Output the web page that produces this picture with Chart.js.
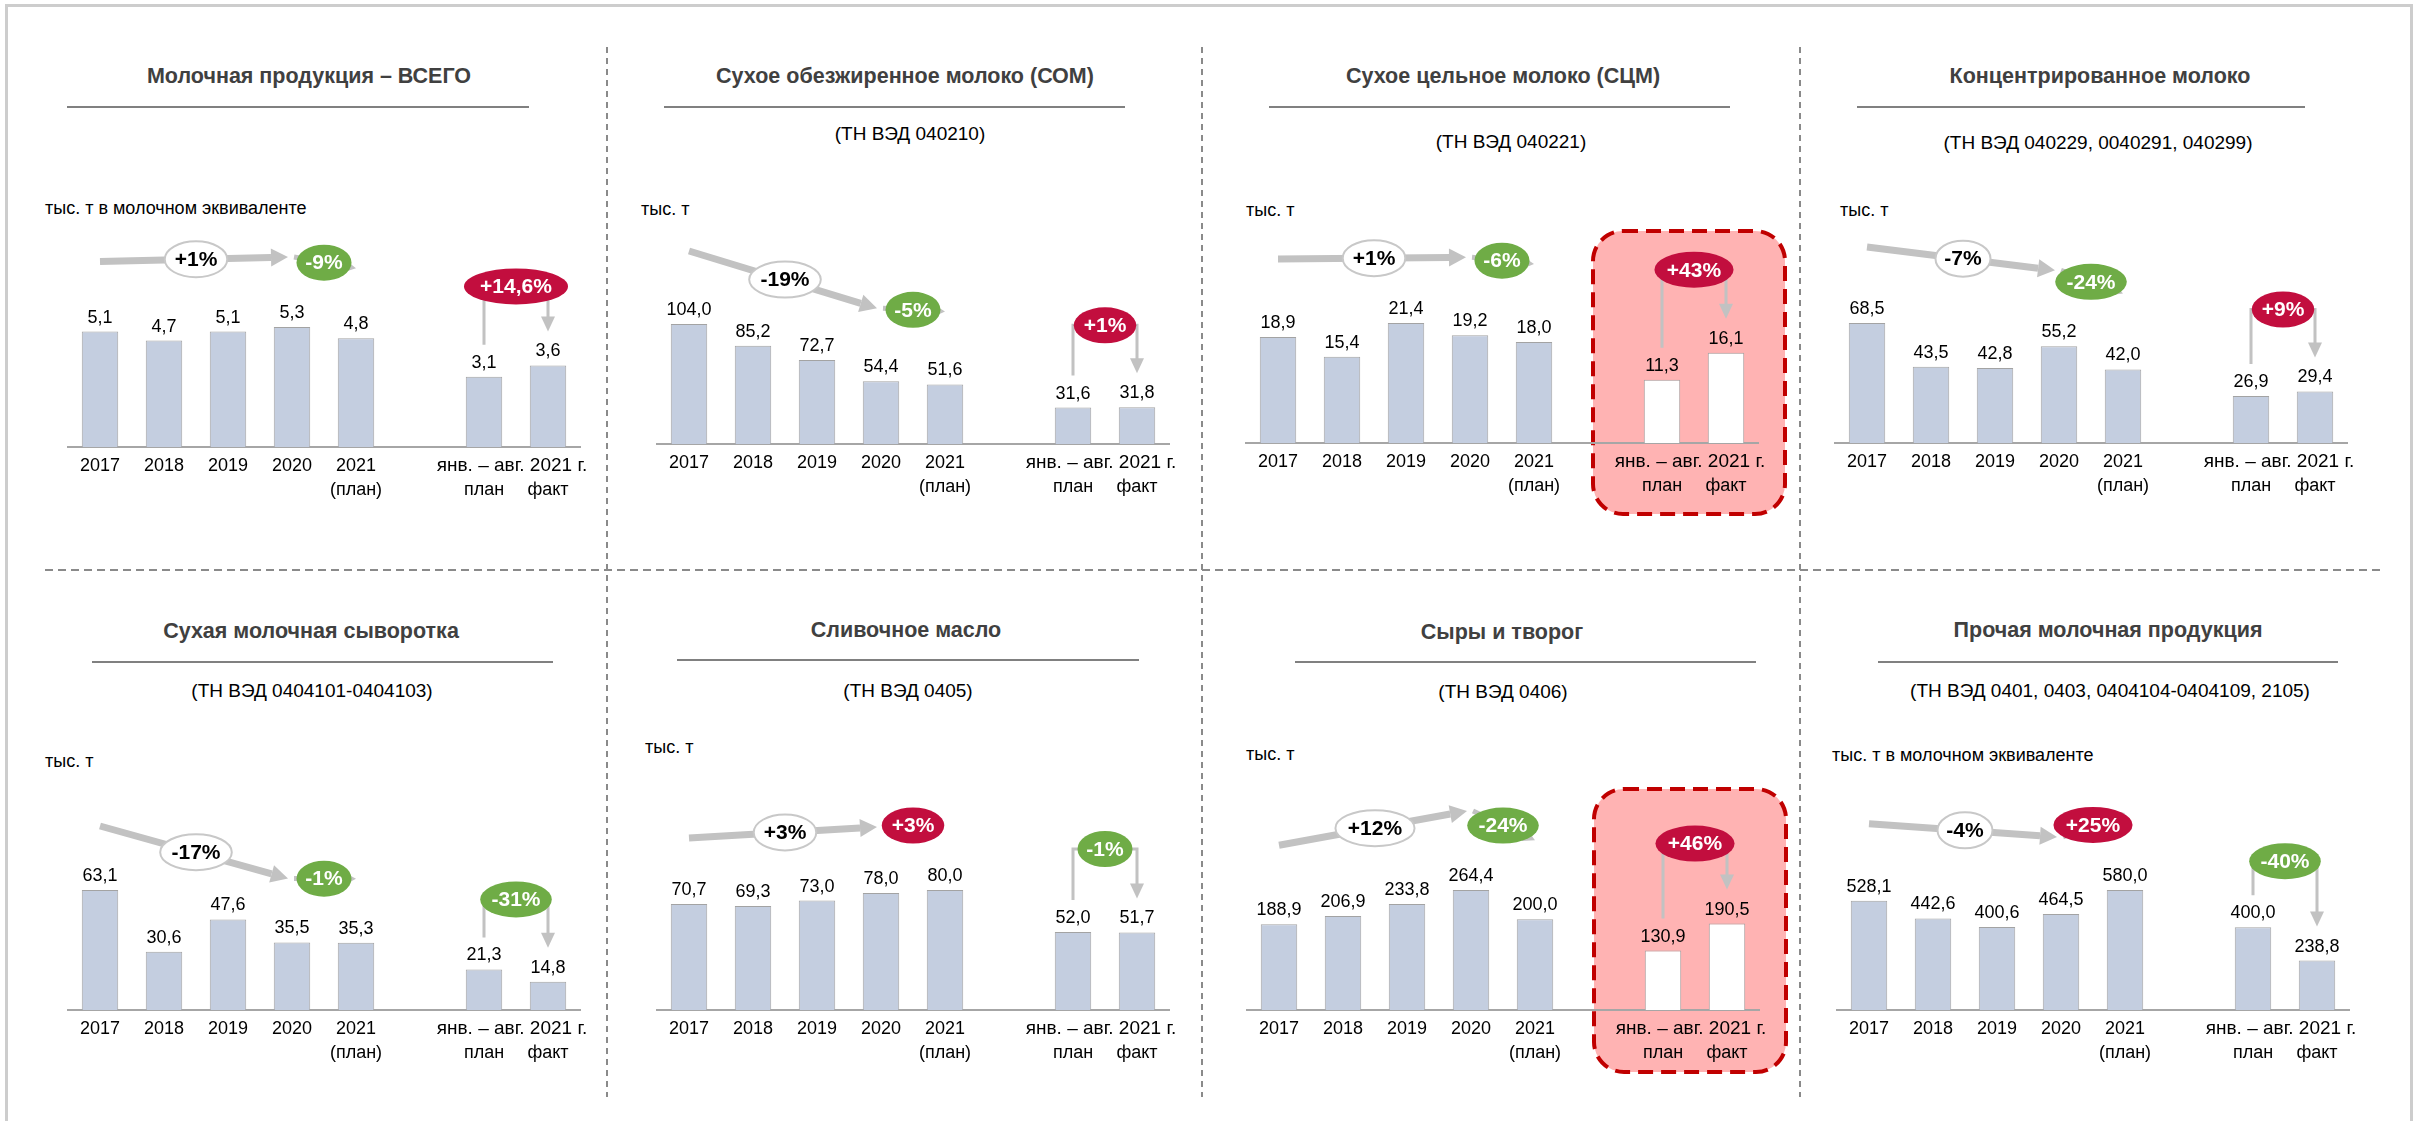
<!DOCTYPE html>
<html lang="ru">
<head>
<meta charset="utf-8">
<title>Молочная продукция</title>
<script src="https://cdn.jsdelivr.net/npm/chart.js@4.4.1/dist/chart.umd.min.js"></script>
<style>
  html, body { margin: 0; padding: 0; background: #fff; }
  body { width: 2417px; height: 1121px; position: relative; overflow: hidden; font-family: "Liberation Sans", Arial, sans-serif; }
  .frame { position: absolute; left: 5px; top: 4px; width: 2402px; height: 1140px; border: 3px solid #cdcdcd; }
  .vdash { position: absolute; width: 2px; background: repeating-linear-gradient(to bottom, #8a8a8a 0 6px, transparent 6px 11px); }
  .hdash { position: absolute; height: 2px; background: repeating-linear-gradient(to right, #8a8a8a 0 8px, transparent 8px 13px); }
  .title { position: absolute; font-weight: bold; font-size: 21.5px; color: #404040; transform: translate(-50%, -50%); white-space: nowrap; }
  .rule { position: absolute; height: 2px; background: #808080; }
  .sub { position: absolute; font-size: 19px; color: #000; transform: translate(-50%, -50%); white-space: nowrap; }
  .unit { position: absolute; font-size: 18px; color: #000; transform: translateY(-50%); white-space: nowrap; }
  canvas { position: absolute; }
</style>
</head>
<body>
<div class="frame"></div>
<script>
// --- data ---
const categories = ["2017", "2018", "2019", "2020", ["2021", "(план)"], "", ["", "план"], ["", "факт"]];
const periodLabel = "янв. – авг. 2021 г.";

const titles = [
	"Молочная продукция – ВСЕГО",
	"Сухое обезжиренное молоко (СОМ)",
	"Сухое цельное молоко (СЦМ)",
	"Концентрированное молоко",
	"Сухая молочная сыворотка",
	"Сливочное масло",
	"Сыры и творог",
	"Прочая молочная продукция",
];
const subtitles = [
	"",
	"(ТН ВЭД 040210)",
	"(ТН ВЭД 040221)",
	"(ТН ВЭД 040229, 0040291, 040299)",
	"(ТН ВЭД 0404101-0404103)",
	"(ТН ВЭД 0405)",
	"(ТН ВЭД 0406)",
	"(ТН ВЭД 0401, 0403, 0404104-0404109, 2105)",
];
const units = [
	"тыс. т в молочном эквиваленте",
	"тыс. т", "тыс. т", "тыс. т", "тыс. т", "тыс. т", "тыс. т",
	"тыс. т в молочном эквиваленте",
];

// 2017..2021 (план), gap, янв.-авг. план, янв.-авг. факт
const totalValues = [5.1, 4.7, 5.1, 5.3, 4.8, null, 3.1, 3.6];
const somValues = [104.0, 85.2, 72.7, 54.4, 51.6, null, 31.6, 31.8];
const scmValues = [18.9, 15.4, 21.4, 19.2, 18.0, null, 11.3, 16.1];
const condensedValues = [68.5, 43.5, 42.8, 55.2, 42.0, null, 26.9, 29.4];
const wheyValues = [63.1, 30.6, 47.6, 35.5, 35.3, null, 21.3, 14.8];
const butterValues = [70.7, 69.3, 73.0, 78.0, 80.0, null, 52.0, 51.7];
const cheeseValues = [188.9, 206.9, 233.8, 264.4, 200.0, null, 130.9, 190.5];
const otherValues = [528.1, 442.6, 400.6, 464.5, 580.0, null, 400.0, 238.8];
const seriesValues = [totalValues, somValues, scmValues, condensedValues, wheyValues, butterValues, cheeseValues, otherValues];

// trend badges: 2017→2020 and 2020→2021
const trendLabels = [
	["+1%", "-9%"], ["-19%", "-5%"], ["+1%", "-6%"], ["-7%", "-24%"],
	["-17%", "-1%"], ["+3%", "+3%"], ["+12%", "-24%"], ["-4%", "+25%"],
];
// plan → fact badge
const factLabels = ["+14,6%", "+1%", "+43%", "+9%", "-31%", "-1%", "+46%", "-40%"];
const highlighted = [false, false, true, false, false, false, true, false];

// --- layout (page pixels) ---
const panelLayout = [
	{ tx: 309, ty: 76, rule: [67, 529], ry: 107, sx: 910, sy: 0, ux: 45, uy: 208, barX: 100, baseY: 447, lift: 70, bLift: 79 },
	{ tx: 905, ty: 76, rule: [664, 1125], ry: 107, sx: 910, sy: 134, ux: 641, uy: 209, barX: 689, baseY: 444, lift: 73, bLift: 82 },
	{ tx: 1503, ty: 76, rule: [1269, 1730], ry: 107, sx: 1511, sy: 142, ux: 1246, uy: 210, barX: 1278, baseY: 443, lift: 78, bLift: 83, box: [212, 71] },
	{ tx: 2100, ty: 76, rule: [1857, 2305], ry: 107, sx: 2098, sy: 143, ux: 1840, uy: 210, barX: 1867, baseY: 443, lift: 76, bLift: 82 },
	{ tx: 311, ty: 631, rule: [92, 553], ry: 662, sx: 312, sy: 691, ux: 45, uy: 761, barX: 100, baseY: 1010, lift: 64, bLift: 70 },
	{ tx: 906, ty: 630, rule: [677, 1139], ry: 660, sx: 908, sy: 691, ux: 645, uy: 747, barX: 689, baseY: 1010, lift: 66, bLift: 83 },
	{ tx: 1502, ty: 632, rule: [1295, 1756], ry: 662, sx: 1503, sy: 692, ux: 1246, uy: 754, barX: 1279, baseY: 1010, lift: 79, bLift: 80, box: [221, 62] },
	{ tx: 2108, ty: 630, rule: [1878, 2338], ry: 662, sx: 2110, sy: 691, ux: 1832, uy: 755, barX: 1869, baseY: 1010, lift: 77, bLift: 66 },
];

const FONT = '"Liberation Sans", Arial, sans-serif';
const BAR_FILL = "#c4cee0";
const BAR_EDGE = "#a3a3a3";
const ARROW_GRAY = "#c2c2c2";
const GREEN = "#6fac46";
const RED = "#c20e3e";
const CANVAS_W = 592;
const CANVAS_H = 320;
const AXIS_H = 80;
const PAD_X = 40;
const BAR_PX = 120;

const badgeColor = (text) => (text.trim().startsWith("+") ? RED : GREEN);
const fmt = (v) => v.toFixed(1).replace(".", ",");

const addDiv = (cls, style, text) => {
	const el = document.createElement("div");
	el.className = cls;
	Object.assign(el.style, style);
	if (text) el.textContent = text;
	document.body.appendChild(el);
	return el;
};

// separators
[607, 1202, 1800].forEach((x) => addDiv("vdash", { left: x - 1 + "px", top: "47px", height: "1050px" }));
addDiv("hdash", { left: "45px", top: "569px", width: "2337px" });

const drawArrow = (ctx, x1, y1, x2, y2, width, headL, headW) => {
	const a = Math.atan2(y2 - y1, x2 - x1);
	const bx = x2 - headL * Math.cos(a);
	const by = y2 - headL * Math.sin(a);
	ctx.save();
	ctx.strokeStyle = ARROW_GRAY;
	ctx.fillStyle = ARROW_GRAY;
	ctx.lineWidth = width;
	ctx.beginPath();
	ctx.moveTo(x1, y1);
	ctx.lineTo(bx, by);
	ctx.stroke();
	ctx.beginPath();
	ctx.moveTo(x2, y2);
	ctx.lineTo(bx + (headW / 2) * Math.sin(a), by - (headW / 2) * Math.cos(a));
	ctx.lineTo(bx - (headW / 2) * Math.sin(a), by + (headW / 2) * Math.cos(a));
	ctx.closePath();
	ctx.fill();
	ctx.restore();
};

const drawBadge = (ctx, cx, cy, text, fill) => {
	ctx.save();
	ctx.font = "bold 21px " + FONT;
	const w = ctx.measureText(text).width;
	ctx.beginPath();
	ctx.ellipse(cx, cy, w * 0.71 + 1, 18, 0, 0, Math.PI * 2);
	if (fill) {
		ctx.fillStyle = fill;
		ctx.fill();
		ctx.fillStyle = "#fff";
	} else {
		ctx.fillStyle = "#fff";
		ctx.fill();
		ctx.strokeStyle = "#c8c8c8";
		ctx.lineWidth = 2;
		ctx.stroke();
		ctx.fillStyle = "#000";
	}
	ctx.textAlign = "center";
	ctx.textBaseline = "middle";
	ctx.fillText(text, cx, cy + 1);
	ctx.restore();
};

const panelMarks = {
	id: "panelMarks",
	beforeDraw(chart, args, opts) {
		if (!opts.box) return;
		const ctx = chart.ctx;
		const bars = chart.getDatasetMeta(0).data;
		const base = chart.scales.y.getPixelForValue(0);
		const x1 = bars[6].x - 69;
		const x2 = bars[7].x + 59;
		const y1 = base - opts.box[0];
		const y2 = base + opts.box[1];
		ctx.save();
		ctx.beginPath();
		ctx.roundRect(x1, y1, x2 - x1, y2 - y1, 30);
		ctx.fillStyle = "#ffb3b3";
		ctx.fill();
		ctx.setLineDash([15, 8]);
		ctx.lineWidth = 4;
		ctx.strokeStyle = "#c00000";
		ctx.stroke();
		ctx.restore();
	},
	afterDatasetsDraw(chart, args, opts) {
		const ctx = chart.ctx;
		const bars = chart.getDatasetMeta(0).data;
		const values = chart.data.datasets[0].data;

		// value labels
		ctx.save();
		ctx.font = "18px " + FONT;
		ctx.fillStyle = "#000";
		ctx.textAlign = "center";
		ctx.textBaseline = "alphabetic";
		values.forEach((v, i) => {
			if (v === null) return;
			ctx.fillText(fmt(v), bars[i].x, bars[i].y - 9);
		});
		ctx.restore();

		// trend arrows 2017 → 2020 → 2021
		const yAt = (i) => bars[i].y - opts.lift;
		drawArrow(ctx, bars[0].x, yAt(0), bars[3].x - 4, yAt(3), 7, 17, 18);
		drawArrow(ctx, bars[3].x + 2, yAt(3), bars[4].x, yAt(4), 5, 12, 13);
		drawBadge(ctx, (bars[0].x + bars[3].x) / 2, (yAt(0) + yAt(3)) / 2, opts.trend[0], null);
		drawBadge(ctx, (bars[3].x + bars[4].x) / 2, (yAt(3) + yAt(4)) / 2, opts.trend[1], badgeColor(opts.trend[1]));

		// plan → fact bracket
		const p = bars[6];
		const f = bars[7];
		const yTop = Math.min(p.y, f.y) - opts.bLift;
		const tipY = f.y - 34;
		ctx.save();
		ctx.strokeStyle = ARROW_GRAY;
		ctx.fillStyle = ARROW_GRAY;
		ctx.lineWidth = 3;
		ctx.beginPath();
		ctx.moveTo(p.x, p.y - 32);
		ctx.lineTo(p.x, yTop);
		ctx.lineTo(f.x, yTop);
		ctx.lineTo(f.x, tipY - 14);
		ctx.stroke();
		ctx.beginPath();
		ctx.moveTo(f.x, tipY);
		ctx.lineTo(f.x - 7, tipY - 15);
		ctx.lineTo(f.x + 7, tipY - 15);
		ctx.closePath();
		ctx.fill();
		ctx.restore();
		drawBadge(ctx, (p.x + f.x) / 2, yTop, opts.fact, badgeColor(opts.fact));
	},
	afterDraw(chart) {
		const ctx = chart.ctx;
		const bars = chart.getDatasetMeta(0).data;
		ctx.save();
		ctx.font = "19px " + FONT;
		ctx.fillStyle = "#000";
		ctx.textAlign = "center";
		ctx.textBaseline = "middle";
		ctx.fillText(periodLabel, (bars[6].x + bars[7].x) / 2 - 4, chart.scales.x.top + 7 + 12);
		ctx.restore();
	},
};

seriesValues.forEach((values, i) => {
	const lay = panelLayout[i];
	addDiv("title", { left: lay.tx + "px", top: lay.ty + "px" }, titles[i]);
	addDiv("rule", { left: lay.rule[0] + "px", top: lay.ry - 1 + "px", width: lay.rule[1] - lay.rule[0] + "px" });
	if (subtitles[i]) addDiv("sub", { left: lay.sx + "px", top: lay.sy + "px" }, subtitles[i]);
	addDiv("unit", { left: lay.ux + "px", top: lay.uy + "px" }, units[i]);

	const canvas = document.createElement("canvas");
	canvas.width = CANVAS_W;
	canvas.height = CANVAS_H;
	canvas.style.left = lay.barX - 32 - PAD_X + "px";
	canvas.style.top = lay.baseY - (CANVAS_H - AXIS_H) + "px";
	document.body.appendChild(canvas);

	const peak = Math.max(...values.filter((v) => v !== null));
	const fills = values.map((_, k) => (highlighted[i] && k >= 6 ? "#ffffff" : BAR_FILL));

	new Chart(canvas, {
		type: "bar",
		data: {
			labels: categories,
			datasets: [
				{
					data: values,
					backgroundColor: fills,
					borderColor: BAR_EDGE,
					borderWidth: 1,
					barPercentage: 0.57,
					categoryPercentage: 1,
				},
			],
		},
		options: {
			responsive: false,
			animation: false,
			devicePixelRatio: 1,
			layout: { padding: { left: PAD_X, right: PAD_X, top: 0, bottom: 0 } },
			plugins: {
				legend: { display: false },
				tooltip: { enabled: false },
				panelMarks: {
					trend: trendLabels[i],
					fact: factLabels[i],
					lift: lay.lift,
					bLift: lay.bLift,
					box: lay.box || null,
				},
			},
			scales: {
				x: {
					grid: { display: false, drawTicks: false },
					border: { display: true, color: "#a6a6a6", width: 2 },
					ticks: {
						color: "#000",
						font: { family: FONT, size: 18, lineHeight: 24 / 18 },
						padding: 7,
						autoSkip: false,
						maxRotation: 0,
						minRotation: 0,
					},
					afterFit: (scale) => {
						scale.height = AXIS_H;
					},
				},
				y: {
					display: false,
					min: 0,
					max: (peak * (CANVAS_H - AXIS_H)) / BAR_PX,
				},
			},
		},
		plugins: [panelMarks],
	});
});
</script>
</body>
</html>
